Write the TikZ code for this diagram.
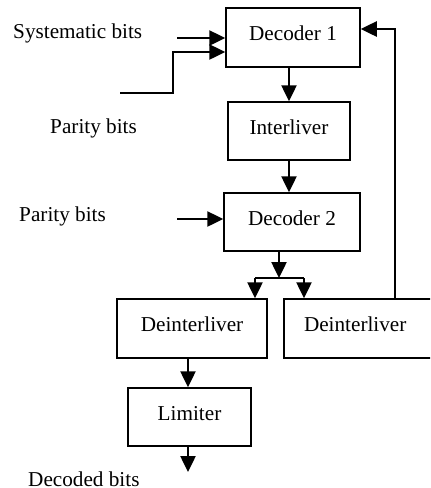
\documentclass[tikz,border=0pt]{standalone}
\usepackage{fontspec}
\setmainfont{Liberation Serif}
\usetikzlibrary{arrows.meta}
\begin{document}
\begin{tikzpicture}
[
 x=0.5pt, y=-0.5pt,
 every node/.style ={font=\fontsize{10.6}{12}\selectfont},
 inner sep=0.5mm,
 BLOCK/.style={rectangle, draw=black, line width=0.75pt, minimum height=29pt,
               text height=8pt, text depth=5pt},
 ARR/.style={line width=1.25pt, -{Triangle[length=8pt,width=7.5pt]}},
 LINE/.style={line width=1.25pt},
 LABEL/.style={anchor=west},
 ],
%
\useasboundingbox (0,0) rectangle (430,488);
\clip (0,0) rectangle (430,488);
%
\node [BLOCK, minimum width=67pt, minimum height=29.5pt]  (DEC1)   at (293, 37.5)  {Decoder 1};
\node [BLOCK, minimum width=61pt]  (INTER)  at (289, 131)   {Interliver};
\node [BLOCK, minimum width=68pt]  (DEC2)   at (292, 222)   {Decoder 2};
\node [BLOCK, minimum width=75pt, minimum height=29.5pt]  (DEINTL) at (192, 328.5) {Deinterliver};
\node [BLOCK, minimum width=90pt, minimum height=29.5pt, text width=70pt, inner xsep=10pt]
                                   (DEINTR) at (374, 328.5) {Deinterliver};
\node [BLOCK, minimum width=61.5pt] (LIM)   at (189.5, 417) {Limiter};
%
\node [LABEL]  (SYSTXT)  at ( 10,  33)  {Systematic bits};
\node [LABEL]  (PAR1TXT) at ( 47, 128)  {Parity bits};
\node [LABEL]  (PAR2TXT) at ( 16, 216)  {Parity bits};
\node [LABEL]  (OUTTXT)  at ( 25, 479)  {Decoded bits};
%
\coordinate (SYSIN)  at (177,  38);
\coordinate (PARIN1) at (120,  93);
\coordinate (BEND1)  at (173,  52);
\coordinate (PARIN2) at (177, 219);
\coordinate (SPLIT)  at (279, 278);
\coordinate (SPLITL) at (255, 278);
\coordinate (SPLITR) at (304, 278);
\coordinate (FB)     at (395,  29);
\coordinate (OUT)    at (188, 472);
%
\draw [ARR]  (SYSIN)  -- (SYSIN -| DEC1.west) ;
\draw [ARR]  (PARIN1) -| (BEND1) -- (BEND1 -| DEC1.west) ;
\draw [ARR]  (INTER.north |- DEC1.south) -- (INTER.north) ;
\draw [ARR]  (INTER.south) -- (INTER.south |- DEC2.north) ;
\draw [ARR]  (PARIN2) -- (PARIN2 -| DEC2.west) ;
%
\draw [ARR]  (SPLIT |- DEC2.south) -- (SPLIT) ;
\draw [LINE] (SPLITL) -- (SPLITR) ;
\draw [ARR]  (SPLITL) -- (SPLITL |- DEINTL.north) ;
\draw [ARR]  (SPLITR) -- (SPLITR |- DEINTR.north) ;
%
\draw [ARR]  (FB |- DEINTR.north) -- (FB) -- (FB -| DEC1.east) ;
%
\draw [ARR]  (OUT |- DEINTL.south) -- (OUT |- LIM.north) ;
\draw [ARR]  (OUT |- LIM.south) -- (OUT) ;
%
\end{tikzpicture}
\end{document}
